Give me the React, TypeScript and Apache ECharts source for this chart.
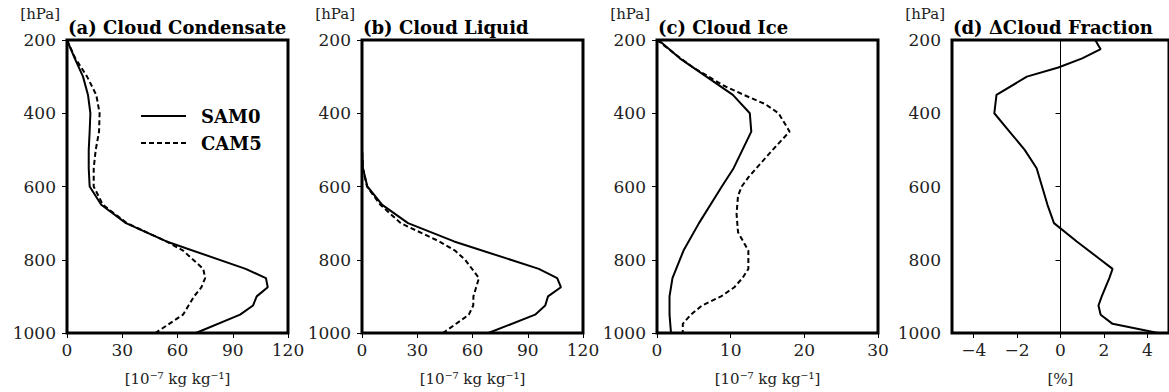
import React, { useEffect, useRef } from "react";
import * as echarts from "echarts";

// ---- data ----
const panelTitles = ["(a) Cloud Condensate", "(b) Cloud Liquid", "(c) Cloud Ice", "(d) ΔCloud Fraction"];
const xUnits = ["[10⁻⁷ kg kg⁻¹]", "[10⁻⁷ kg kg⁻¹]", "[10⁻⁷ kg kg⁻¹]", "[%]"];
const yTicks = [200, 400, 600, 800, 1000];
const seriesNames = ["SAM0", "CAM5"];

// (a) Cloud Condensate
const pA_SAM0 = [200, 250, 300, 350, 400, 450, 500, 550, 600, 650, 700, 750, 825, 850, 875, 900, 925, 950, 1000];
const vA_SAM0 = [0, 4.2, 8.7, 11.4, 12.7, 12.3, 11.8, 11.8, 12.3, 18.6, 32, 54, 97, 108, 109, 103, 101, 94, 70];
const pA_CAM5 = [200, 250, 300, 350, 400, 450, 500, 550, 600, 650, 700, 750, 775, 825, 850, 875, 900, 925, 950, 1000];
const vA_CAM5 = [0, 4.5, 10.9, 15.9, 17.7, 17.4, 15.6, 14.5, 14.5, 19.5, 32.5, 54, 63, 74, 75, 73, 69, 66, 63, 48];

// (b) Cloud Liquid
const pB_SAM0 = [200, 500, 550, 600, 650, 700, 750, 825, 850, 875, 900, 925, 950, 1000];
const vB_SAM0 = [0, 0, 0.5, 2.9, 11, 25, 50, 96, 106, 108, 101, 99.5, 94, 68.6];
const pB_CAM5 = [200, 500, 550, 600, 650, 700, 750, 775, 800, 850, 875, 900, 925, 950, 1000];
const vB_CAM5 = [0, 0, 0.5, 2.7, 10, 21, 42, 50.5, 56, 63.5, 62, 60.5, 60.4, 58, 44];

// (c) Cloud Ice
const pC_SAM0 = [200, 250, 300, 350, 400, 450, 550, 600, 700, 775, 850, 900, 950, 1000];
const vC_SAM0 = [0.2, 3.1, 6.7, 10.3, 12.6, 12.8, 10.4, 8.8, 5.7, 3.6, 2.1, 1.7, 1.7, 1.9];
const pC_CAM5 = [200, 250, 275, 325, 350, 375, 400, 450, 500, 575, 600, 625, 675, 725, 775, 825, 850, 875, 900, 925, 950, 975, 1000];
const vC_CAM5 = [0, 3.2, 4.9, 9.1, 11.8, 14.7, 16.5, 18.0, 15.7, 12.4, 11.5, 11.0, 10.8, 11.0, 12.4, 12.4, 11.6, 10.5, 8.7, 6.1, 4.6, 3.5, 3.5];

// (d) ΔCloud Fraction
const pD = [200, 225, 250, 275, 300, 350, 400, 450, 500, 550, 600, 650, 700, 750, 800, 825, 850, 900, 925, 950, 975, 1000];
const vD = [1.6, 1.85, 1.0, -0.1, -1.55, -2.95, -3.05, -2.35, -1.65, -1.1, -0.85, -0.6, -0.3, 0.75, 1.85, 2.4, 2.25, 1.9, 1.75, 1.85, 2.4, 4.5];

const xRanges = [
  { min: 0, max: 120, ticks: [0, 30, 60, 90, 120] },
  { min: 0, max: 120, ticks: [0, 30, 60, 90, 120] },
  { min: 0, max: 30, ticks: [0, 10, 20, 30] },
  { min: -5, max: 5, ticks: [-4, -2, 0, 2, 4] },
];

const pair = (v: number[], p: number[]) => v.map((x, i) => [x, p[i]]);

export default function App() {
  const ref = useRef<HTMLDivElement>(null);
  useEffect(() => {
    if (!ref.current) return;
    const chart = echarts.init(ref.current, undefined, { renderer: "svg" });
    const lefts = [67, 362, 657, 952];
    const gridW = 221;
    const top = 40;
    const h = 293;
    const font = "DejaVu Serif";

    const grid = lefts.map((l) => ({
      left: l,
      top,
      width: gridW,
      height: h,
      show: true,
      borderColor: "#000",
      borderWidth: 3,
      backgroundColor: "transparent",
    }));

    const xAxis = xRanges.map((r, i) => ({
      type: "value",
      gridIndex: i,
      min: r.min,
      max: r.max,
      axisLine: { show: false },
      axisTick: { show: true, length: 5, customValues: r.ticks, lineStyle: { color: "#000", width: 1 } },
      axisLabel: {
        customValues: r.ticks,
        margin: 8,
        fontSize: 17,
        fontFamily: font,
        color: "#222",
        formatter: (v: number) => String(v).replace("-", "−"),
      },
      splitLine: { show: false },
      name: xUnits[i],
      nameLocation: "middle",
      nameGap: 38,
      nameTextStyle: { fontSize: 15, fontFamily: font, color: "#222" },
    }));

    const yAxis = lefts.map((_, i) => ({
      type: "value",
      gridIndex: i,
      inverse: true,
      min: 200,
      max: 1000,
      axisLine: { show: false },
      axisTick: { show: true, length: 5, customValues: yTicks, lineStyle: { color: "#000", width: 1 } },
      axisLabel: {
        customValues: yTicks,
        margin: 11,
        fontSize: 17,
        fontFamily: font,
        color: "#222",
        formatter: (v: number) => String(v),
      },
      splitLine: { show: false },
    }));

    const solid = { color: "#000", width: 2, type: "solid" };
    const dashed = { color: "#000", width: 2, type: [5, 3] };
    const mk = (name: string, idx: number, data: number[][], ls: any, extra: any = {}) => ({
      name,
      type: "line",
      xAxisIndex: idx,
      yAxisIndex: idx,
      data,
      symbol: "none",
      showSymbol: false,
      color: "#000",
      lineStyle: ls,
      z: 3,
      ...extra,
    });

    const series = [
      mk(seriesNames[0], 0, pair(vA_SAM0, pA_SAM0), solid),
      mk(seriesNames[1], 0, pair(vA_CAM5, pA_CAM5), dashed),
      mk(seriesNames[0], 1, pair(vB_SAM0, pB_SAM0), solid),
      mk(seriesNames[1], 1, pair(vB_CAM5, pB_CAM5), dashed),
      mk(seriesNames[0], 2, pair(vC_SAM0, pC_SAM0), solid),
      mk(seriesNames[1], 2, pair(vC_CAM5, pC_CAM5), dashed),
      mk("ΔCF", 3, pair(vD, pD), solid, {
        markLine: {
          silent: true,
          symbol: "none",
          label: { show: false },
          lineStyle: { color: "#000", width: 1, type: "solid" },
          data: [{ xAxis: 0 }],
        },
      }),
    ];

    const graphic: any[] = [];
    lefts.forEach((l, i) => {
      graphic.push({
        type: "text",
        left: l + 1,
        top: 18,
        style: { text: panelTitles[i], fontSize: 18, fontWeight: "bold", fontFamily: font, fill: "#000" },
      });
      graphic.push({
        type: "text",
        right: 1169 - (l - 7),
        top: 6,
        style: { text: "[hPa]", fontSize: 15, fontFamily: font, fill: "#222" },
      });
    });

    chart.setOption({
      animation: false,
      backgroundColor: "#fff",
      grid,
      xAxis,
      yAxis,
      series,
      graphic,
      legend: {
        data: seriesNames,
        orient: "vertical",
        left: 135,
        top: 102,
        itemWidth: 45,
        itemHeight: 14,
        itemGap: 9,
        selectedMode: false,
        itemStyle: { color: "transparent", borderColor: "transparent", borderWidth: 0, opacity: 0 },
        textStyle: { fontFamily: font, fontWeight: "bold", fontSize: 18, color: "#000", padding: [0, 0, 0, 10] },
      },
    });
    return () => chart.dispose();
  }, []);
  return (
    <div
      ref={ref}
      style={{ position: "fixed", left: 0, top: 0, width: 1169, height: 392, background: "#fff" }}
    />
  );
}
